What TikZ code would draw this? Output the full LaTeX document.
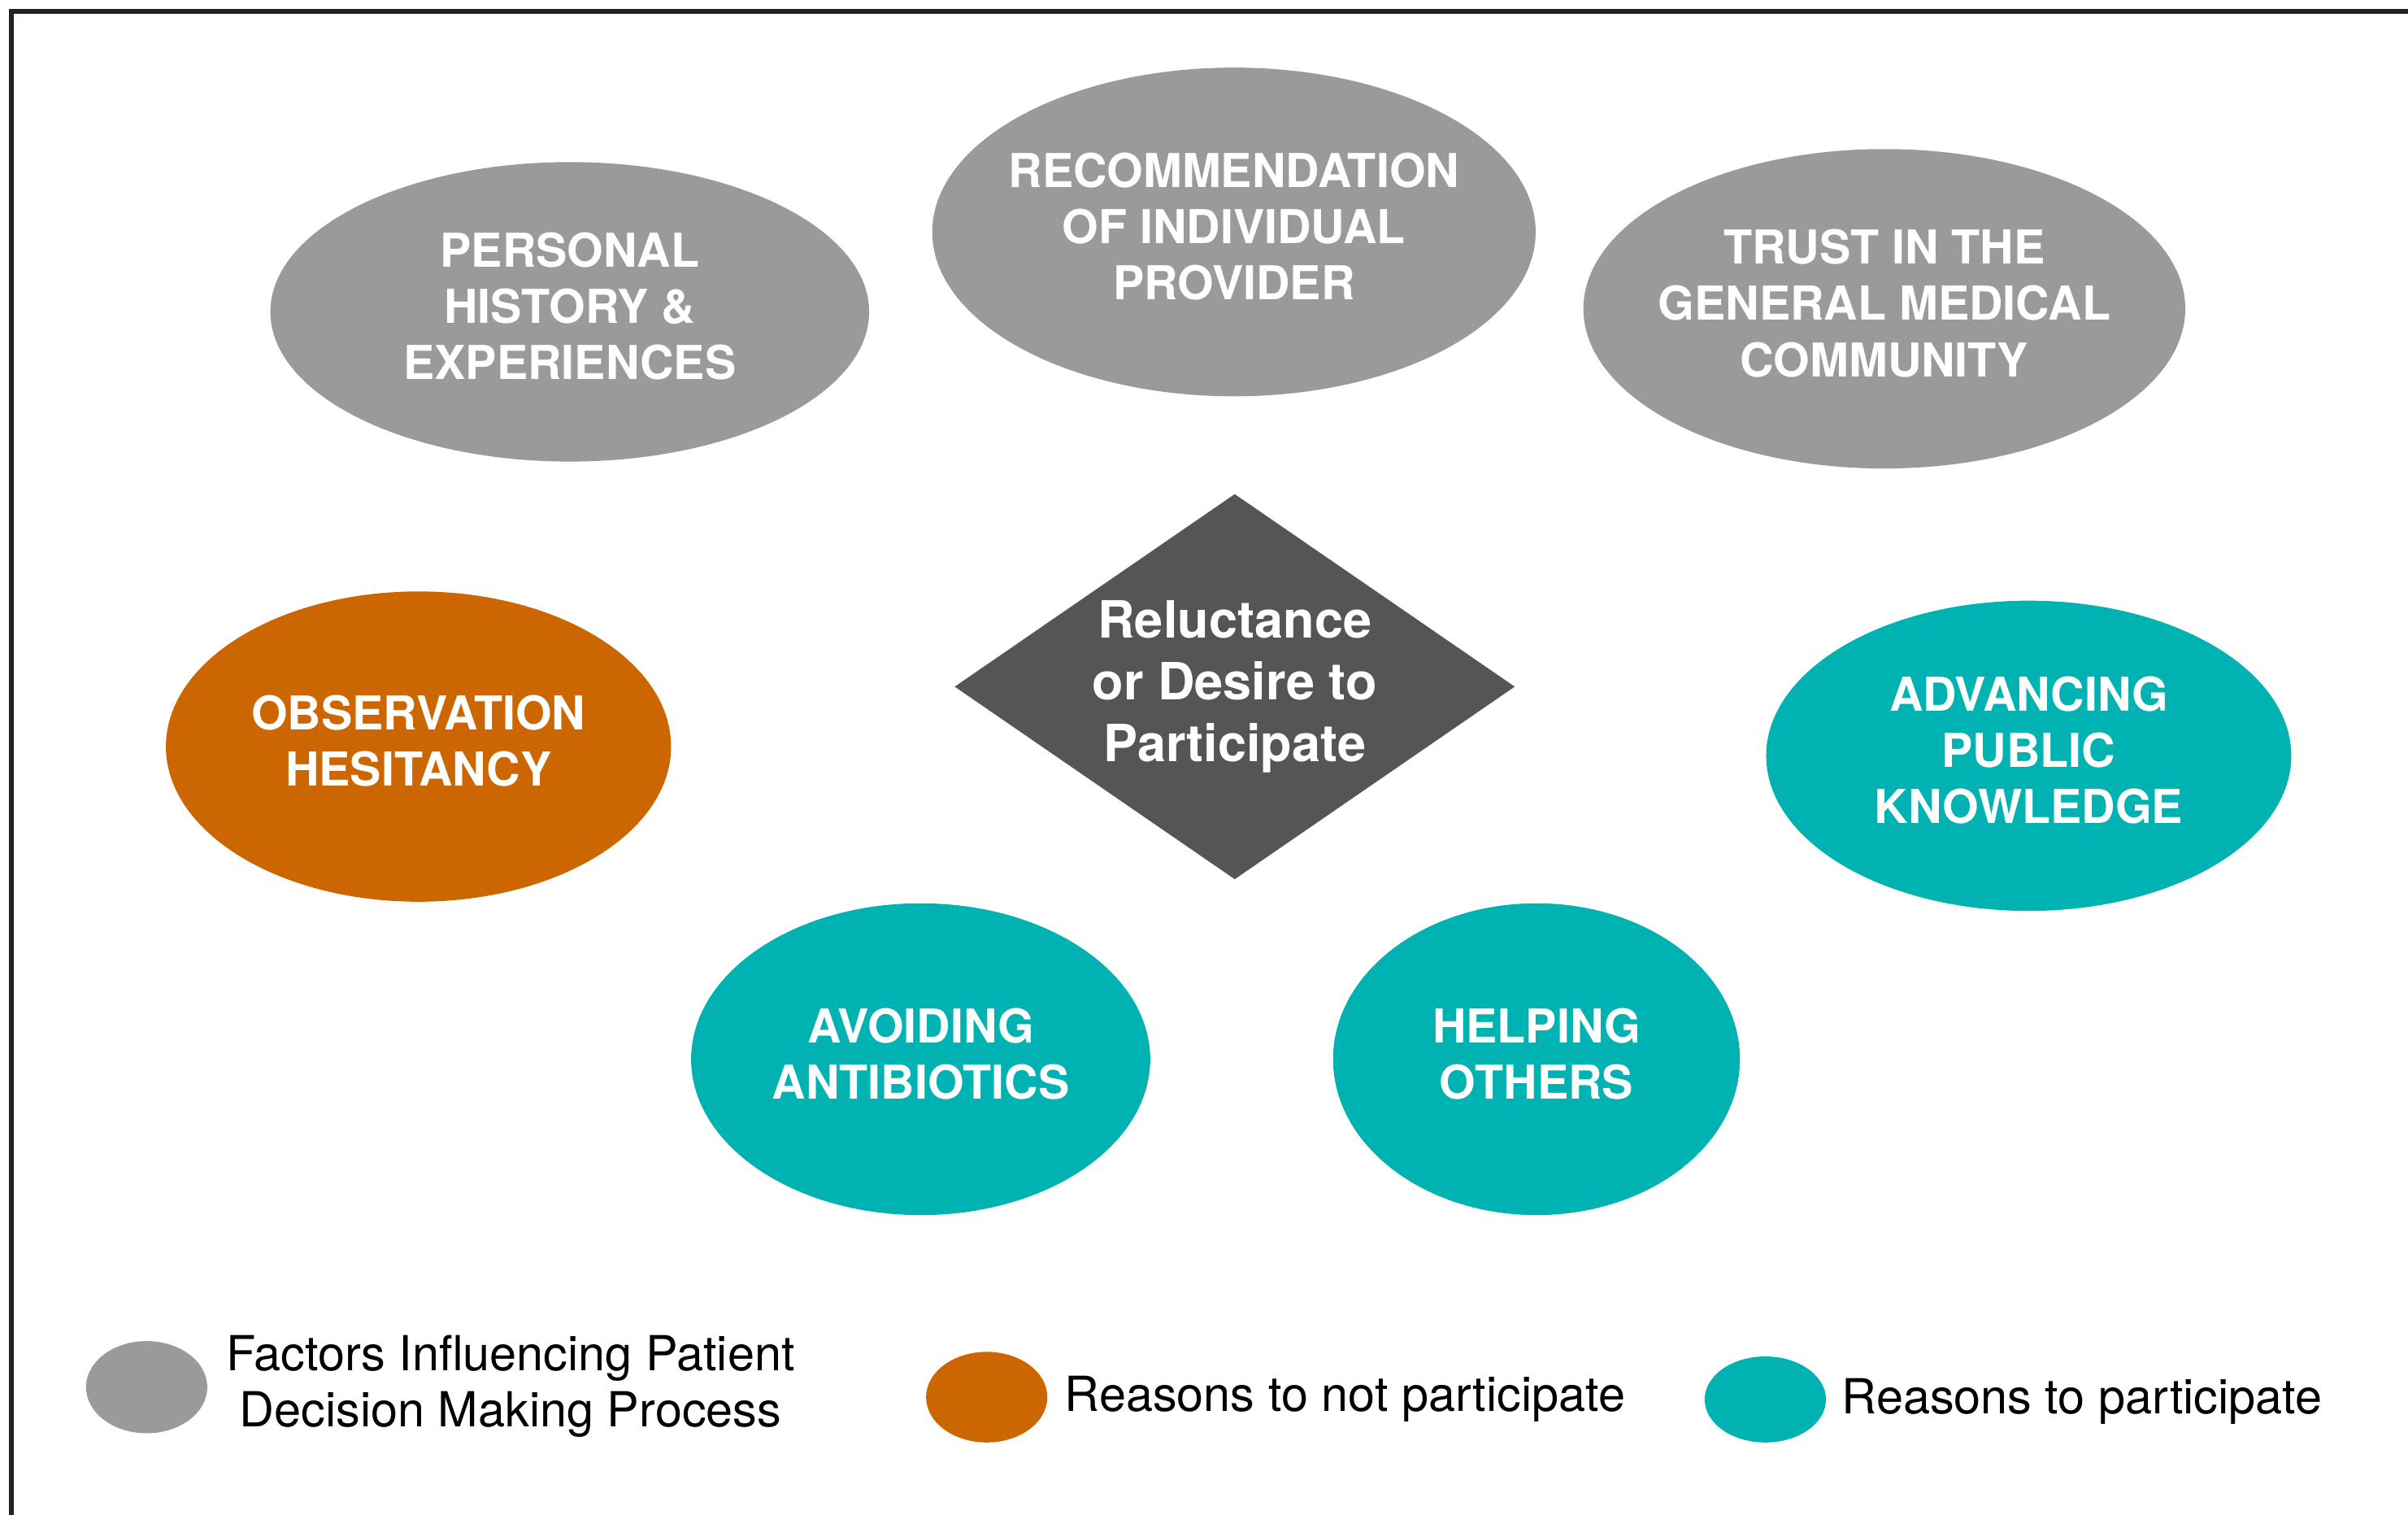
\documentclass[tikz,border=0pt]{standalone}
\usepackage{fontspec}
\setmainfont{TeX Gyre Heros}
\usepackage{tikz}
\usetikzlibrary{shapes.geometric}
\definecolor{factorgray}{HTML}{9A9A9A}
\definecolor{notorange}{HTML}{CC6600}
\definecolor{yesteal}{HTML}{00B2B2}
\definecolor{coregray}{HTML}{555555}
\definecolor{framegray}{HTML}{222222}

\begin{document}
\begin{tikzpicture}[x=0.02cm,y=-0.02cm]
\useasboundingbox (0,0) rectangle (1568,986);
\tikzset{Blob/.style={ellipse,inner sep=0pt,draw=none}}
\tikzset{Tag/.style={text=white,align=center,inner sep=0pt,yshift=2pt,
  font=\fontsize{17.3pt}{20.8pt}\selectfont\bfseries}}
\tikzset{Key/.style={anchor=west,inner sep=0pt,align=center,
  font=\fontsize{17.9pt}{21pt}\selectfont}}

\draw[framegray,line width=0.064cm] (7.4,986) |- (1568,7.4);

\node[Blob,fill=factorgray,minimum width=7.8cm,minimum height=3.9cm] (personal) at (371,203) {};
\node[Blob,fill=factorgray,minimum width=7.86cm,minimum height=4.28cm] (provider) at (803.5,151) {};
\node[Blob,fill=factorgray,minimum width=7.84cm,minimum height=4.16cm] (trust) at (1227,201) {};
\node[Blob,fill=notorange,minimum width=6.58cm,minimum height=4.04cm] (hesitancy) at (272.5,486) {};
\node[Blob,fill=yesteal,minimum width=6.84cm,minimum height=4.04cm] (knowledge) at (1321,492) {};
\node[Blob,fill=yesteal,minimum width=5.98cm,minimum height=4.06cm] (antibiotics) at (599.5,689.5) {};
\node[Blob,fill=yesteal,minimum width=5.3cm,minimum height=4.06cm] (helping) at (1000.5,689.5) {};
\node[diamond,fill=coregray,inner sep=0pt,minimum width=7.3cm,minimum height=5.02cm] (core) at (804,447) {};

\node[Tag] (personal-t) at (personal) {PERSONAL\\HISTORY \&\\EXPERIENCES};
\node[Tag] (provider-t) at (provider) {RECOMMENDATION\\OF INDIVIDUAL\\PROVIDER};
\node[Tag] (trust-t) at (trust) {TRUST IN THE\\GENERAL MEDICAL\\COMMUNITY};
\node[Tag] (hesitancy-t) at (hesitancy) {OBSERVATION\\HESITANCY};
\node[Tag] (knowledge-t) at (knowledge) {ADVANCING\\PUBLIC\\KNOWLEDGE};
\node[Tag] (antibiotics-t) at (antibiotics) {AVOIDING\\ANTIBIOTICS};
\node[Tag] (helping-t) at (helping) {HELPING\\OTHERS};
\node[Tag,yshift=-2pt,font=\fontsize{19pt}{22.8pt}\selectfont\bfseries] (core-t) at (core) {Reluctance\\or Desire to\\Participate};

\node[Blob,fill=factorgray,minimum width=1.58cm,minimum height=1.2cm] (key1) at (95.5,903) {};
\node[Blob,fill=notorange,minimum width=1.58cm,minimum height=1.18cm] (key2) at (642.5,909.5) {};
\node[Blob,fill=yesteal,minimum width=1.58cm,minimum height=1.12cm] (key3) at (1149.5,911) {};
\node[Key] (key1-t) at (147,902.5) {Factors Influencing Patient\\Decision Making Process};
\node[Key] (key2-t) at (693,910.5) {Reasons to not participate};
\node[Key] (key3-t) at (1199,912.5) {Reasons to participate};
\end{tikzpicture}
\end{document}
